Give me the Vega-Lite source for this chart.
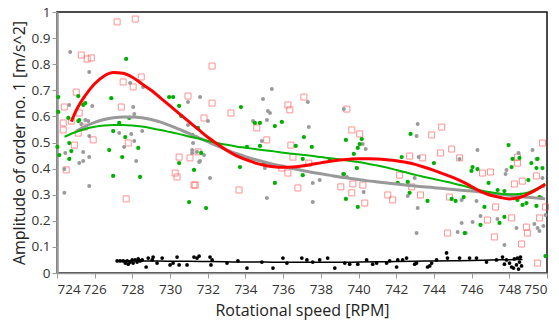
{
  "$schema": "https://vega.github.io/schema/vega-lite/v6.json",
  "width": 490,
  "height": 261,
  "autosize": {"type": "none"},
  "padding": {"left": 57, "top": 12, "right": 12, "bottom": 51},
  "background": "white",
  "config": {
    "font": "Open Sans",
    "view": {"stroke": "#111", "strokeWidth": 1.5},
    "axis": {"grid": false, "labelFontSize": 13.5, "labelColor": "#333", "titleFontSize": 16, "titleFontWeight": "normal", "titleColor": "#222", "tickColor": "#999", "domainColor": "#999", "tickSize": 5}
  },
  "datasets": {
    "red": [
      {"x":727.19,"y":0.962},{"x":728.15,"y":0.973},{"x":725.29,"y":0.835},{"x":725.6,"y":0.82},{"x":725.82,"y":0.824},
      {"x":727.51,"y":0.732},{"x":728.47,"y":0.751},{"x":728.04,"y":0.713},{"x":725.02,"y":0.693},{"x":724.39,"y":0.636},
      {"x":725.18,"y":0.613},{"x":727.41,"y":0.636},{"x":724.33,"y":0.575},{"x":724.76,"y":0.582},{"x":725.45,"y":0.559},
      {"x":724.33,"y":0.548},{"x":725.13,"y":0.536},{"x":725.92,"y":0.51},{"x":727.78,"y":0.498},{"x":724.92,"y":0.49},
      {"x":724.49,"y":0.395},{"x":730.27,"y":0.383},{"x":727.67,"y":0.284},{"x":730.48,"y":0.444},{"x":731.06,"y":0.441},
      {"x":731.27,"y":0.337},{"x":732.23,"y":0.793},{"x":730.95,"y":0.678},{"x":732.23,"y":0.651},{"x":736.25,"y":0.644},
      {"x":736.35,"y":0.625},{"x":733.23,"y":0.613},{"x":731.8,"y":0.594},{"x":734.6,"y":0.556},{"x":735.13,"y":0.51},
      {"x":736.41,"y":0.49},{"x":731.48,"y":0.464},{"x":736.52,"y":0.444},{"x":735.93,"y":0.402},{"x":736.25,"y":0.383},
      {"x":730.37,"y":0.368},{"x":731.33,"y":0.337},{"x":733.66,"y":0.318},{"x":736.78,"y":0.326},{"x":737.1,"y":0.674},
      {"x":739.38,"y":0.628},{"x":739.64,"y":0.548},{"x":740.06,"y":0.533},{"x":737.36,"y":0.421},{"x":739.06,"y":0.33},
      {"x":739.7,"y":0.341},{"x":740.23,"y":0.337},{"x":739.64,"y":0.307},{"x":741.55,"y":0.299},{"x":741.81,"y":0.28},
      {"x":740.33,"y":0.268},{"x":742.18,"y":0.375},{"x":742.71,"y":0.448},{"x":742.82,"y":0.33},{"x":744.41,"y":0.559},
      {"x":743.88,"y":0.529},{"x":744.94,"y":0.475},{"x":744.35,"y":0.46},{"x":743.4,"y":0.441},{"x":745.36,"y":0.441},
      {"x":743.29,"y":0.299},{"x":744.83,"y":0.291},{"x":747.0,"y":0.387},{"x":746.58,"y":0.383},{"x":748.27,"y":0.341},
      {"x":748.69,"y":0.352},{"x":748.43,"y":0.421},{"x":748.43,"y":0.444},{"x":749.76,"y":0.498},{"x":749.44,"y":0.372},
      {"x":747.27,"y":0.253},{"x":746.84,"y":0.203},{"x":744.72,"y":0.153},{"x":747.21,"y":0.138},{"x":748.91,"y":0.176},
      {"x":748.65,"y":0.111},{"x":748.96,"y":0.153},{"x":748.12,"y":0.211},{"x":749.6,"y":0.211},{"x":749.92,"y":0.253},
      {"x":749.5,"y":0.038}
    ],
    "gray": [
      {"x":724.7,"y":0.847},{"x":725.71,"y":0.77},{"x":727.88,"y":0.728},{"x":728.57,"y":0.713},{"x":724.65,"y":0.644},
      {"x":725.87,"y":0.64},{"x":728.04,"y":0.636},{"x":728.1,"y":0.609},{"x":725.5,"y":0.586},{"x":725.66,"y":0.582},
      {"x":725.29,"y":0.571},{"x":725.71,"y":0.525},{"x":727.3,"y":0.536},{"x":727.94,"y":0.533},{"x":728.1,"y":0.506},
      {"x":727.56,"y":0.483},{"x":728.52,"y":0.544},{"x":724.44,"y":0.46},{"x":725.39,"y":0.464},{"x":725.71,"y":0.444},
      {"x":725.39,"y":0.429},{"x":725.18,"y":0.421},{"x":728.2,"y":0.429},{"x":724.39,"y":0.398},{"x":725.71,"y":0.333},
      {"x":724.39,"y":0.307},{"x":731.17,"y":0.46},{"x":731.54,"y":0.425},{"x":732.12,"y":0.364},{"x":731.59,"y":0.674},
      {"x":730.95,"y":0.655},{"x":735.4,"y":0.705},{"x":734.93,"y":0.667},{"x":735.19,"y":0.621},{"x":735.3,"y":0.613},
      {"x":734.4,"y":0.582},{"x":735.14,"y":0.586},{"x":732.01,"y":0.582},{"x":730.95,"y":0.567},{"x":731.22,"y":0.498},
      {"x":734.87,"y":0.506},{"x":731.17,"y":0.471},{"x":731.43,"y":0.464},{"x":731.8,"y":0.452},{"x":731.59,"y":0.429},
      {"x":735.03,"y":0.402},{"x":735.14,"y":0.287},{"x":737.31,"y":0.655},{"x":737.36,"y":0.559},{"x":739.22,"y":0.628},
      {"x":740.38,"y":0.475},{"x":740.22,"y":0.494},{"x":743.08,"y":0.525},{"x":743.14,"y":0.571},{"x":739.17,"y":0.379},
      {"x":739.38,"y":0.368},{"x":737.94,"y":0.356},{"x":737.57,"y":0.345},{"x":740.27,"y":0.31},{"x":737.57,"y":0.272},
      {"x":742.61,"y":0.295},{"x":743.14,"y":0.249},{"x":742.98,"y":0.364},{"x":743.19,"y":0.444},{"x":745.36,"y":0.437},
      {"x":746.31,"y":0.471},{"x":748.49,"y":0.46},{"x":749.23,"y":0.471},{"x":749.44,"y":0.437},{"x":747.85,"y":0.395},
      {"x":747.8,"y":0.379},{"x":746.26,"y":0.276},{"x":745.47,"y":0.28},{"x":745.47,"y":0.192},{"x":746.05,"y":0.195},
      {"x":746.47,"y":0.218},{"x":747.37,"y":0.207},{"x":745.26,"y":0.157},{"x":745.69,"y":0.153},{"x":749.33,"y":0.188},
      {"x":749.5,"y":0.172},{"x":749.6,"y":0.161},{"x":749.81,"y":0.18},{"x":748.38,"y":0.172},{"x":743.08,"y":0.153},
      {"x":749.76,"y":0.364},{"x":749.81,"y":0.333},{"x":749.71,"y":0.287},{"x":747.74,"y":0.107},{"x":749.92,"y":0.222}
    ],
    "green": [
      {"x":727.67,"y":0.82},{"x":726.88,"y":0.67},{"x":725.13,"y":0.678},{"x":725.5,"y":0.651},{"x":725.39,"y":0.644},
      {"x":724.07,"y":0.674},{"x":724.07,"y":0.617},{"x":724.6,"y":0.594},{"x":725.18,"y":0.586},{"x":727.83,"y":0.594},
      {"x":730.16,"y":0.674},{"x":729.95,"y":0.674},{"x":730.48,"y":0.64},{"x":727.3,"y":0.575},{"x":725.13,"y":0.582},
      {"x":726.98,"y":0.544},{"x":727.62,"y":0.521},{"x":724.65,"y":0.498},{"x":724.02,"y":0.483},{"x":724.76,"y":0.467},
      {"x":726.77,"y":0.471},{"x":728.31,"y":0.479},{"x":724.12,"y":0.452},{"x":724.65,"y":0.437},{"x":727.46,"y":0.444},
      {"x":730.48,"y":0.421},{"x":726.98,"y":0.372},{"x":728.41,"y":0.368},{"x":731.27,"y":0.395},{"x":731.01,"y":0.272},
      {"x":731.91,"y":0.249},{"x":731.65,"y":0.46},{"x":730.59,"y":0.602},{"x":733.76,"y":0.636},{"x":734.5,"y":0.575},
      {"x":734.77,"y":0.575},{"x":735.56,"y":0.563},{"x":735.93,"y":0.579},{"x":731.48,"y":0.556},{"x":731.17,"y":0.529},
      {"x":734.08,"y":0.483},{"x":734.77,"y":0.487},{"x":736.67,"y":0.487},{"x":733.71,"y":0.406},{"x":734.98,"y":0.418},
      {"x":735.56,"y":0.345},{"x":737.1,"y":0.521},{"x":737.52,"y":0.483},{"x":739.33,"y":0.51},{"x":740.17,"y":0.513},
      {"x":740.06,"y":0.494},{"x":739.75,"y":0.456},{"x":739.96,"y":0.479},{"x":737.04,"y":0.437},{"x":738.47,"y":0.433},
      {"x":739.91,"y":0.402},{"x":737.04,"y":0.375},{"x":739.22,"y":0.379},{"x":739.33,"y":0.284},{"x":739.96,"y":0.253},
      {"x":742.76,"y":0.533},{"x":742.29,"y":0.444},{"x":742.08,"y":0.345},{"x":742.61,"y":0.349},{"x":742.71,"y":0.307},
      {"x":747.96,"y":0.49},{"x":748.17,"y":0.437},{"x":748.12,"y":0.406},{"x":749.17,"y":0.421},{"x":749.44,"y":0.402},
      {"x":749.5,"y":0.437},{"x":749.76,"y":0.402},{"x":746.05,"y":0.406},{"x":745.99,"y":0.391},{"x":746.31,"y":0.398},
      {"x":746.9,"y":0.345},{"x":747.38,"y":0.318},{"x":747.74,"y":0.314},{"x":748.59,"y":0.299},{"x":749.01,"y":0.356},
      {"x":748.43,"y":0.28},{"x":748.91,"y":0.268},{"x":749.6,"y":0.291},{"x":749.44,"y":0.257},{"x":744.0,"y":0.421},
      {"x":743.66,"y":0.276},{"x":744.94,"y":0.284},{"x":745.15,"y":0.276},{"x":745.58,"y":0.291},{"x":746.68,"y":0.253},
      {"x":747.74,"y":0.215},{"x":747.48,"y":0.192},{"x":746.47,"y":0.184},{"x":745.63,"y":0.153},{"x":748.7,"y":0.261},
      {"x":749.92,"y":0.065},{"x":748.54,"y":0.441}
    ],
    "black": [
      {"x":727.19,"y":0.046},{"x":727.35,"y":0.046},{"x":727.51,"y":0.046},{"x":727.62,"y":0.038},{"x":727.72,"y":0.046},
      {"x":727.78,"y":0.034},{"x":727.88,"y":0.042},{"x":727.99,"y":0.05},{"x":728.04,"y":0.038},{"x":728.15,"y":0.05},
      {"x":728.25,"y":0.042},{"x":728.31,"y":0.054},{"x":728.41,"y":0.046},{"x":728.52,"y":0.05},{"x":728.73,"y":0.023},
      {"x":728.84,"y":0.057},{"x":729.05,"y":0.05},{"x":729.1,"y":0.061},{"x":729.31,"y":0.038},{"x":729.58,"y":0.057},
      {"x":730.0,"y":0.031},{"x":730.16,"y":0.038},{"x":730.37,"y":0.061},{"x":730.48,"y":0.031},{"x":730.9,"y":0.031},
      {"x":731.27,"y":0.061},{"x":731.43,"y":0.057},{"x":731.54,"y":0.065},{"x":732.12,"y":0.061},{"x":732.17,"y":0.031},
      {"x":732.23,"y":0.05},{"x":733.02,"y":0.038},{"x":733.6,"y":0.046},{"x":734.08,"y":0.019},{"x":734.87,"y":0.042},
      {"x":735.46,"y":0.019},{"x":735.99,"y":0.057},{"x":736.2,"y":0.038},{"x":736.99,"y":0.057},{"x":737.26,"y":0.05},
      {"x":737.57,"y":0.042},{"x":737.94,"y":0.05},{"x":738.36,"y":0.057},{"x":738.74,"y":0.019},{"x":739.27,"y":0.038},
      {"x":739.53,"y":0.034},{"x":739.96,"y":0.034},{"x":740.43,"y":0.05},{"x":740.75,"y":0.034},{"x":740.96,"y":0.038},
      {"x":741.49,"y":0.038},{"x":741.65,"y":0.046},{"x":742.02,"y":0.023},{"x":742.08,"y":0.05},{"x":742.34,"y":0.05},
      {"x":742.55,"y":0.057},{"x":742.98,"y":0.034},{"x":743.08,"y":0.038},{"x":743.66,"y":0.023},{"x":743.78,"y":0.027},
      {"x":743.88,"y":0.038},{"x":744.14,"y":0.05},{"x":744.67,"y":0.077},{"x":744.72,"y":0.057},{"x":745.36,"y":0.057},
      {"x":745.89,"y":0.057},{"x":746.26,"y":0.057},{"x":746.79,"y":0.042},{"x":747.32,"y":0.05},{"x":747.64,"y":0.061},
      {"x":747.74,"y":0.034},{"x":747.85,"y":0.05},{"x":748.01,"y":0.038},{"x":748.12,"y":0.023},{"x":748.22,"y":0.019},
      {"x":748.27,"y":0.054},{"x":748.38,"y":0.031},{"x":748.43,"y":0.057},{"x":748.49,"y":0.015},{"x":748.54,"y":0.042},
      {"x":748.59,"y":0.061},{"x":748.65,"y":0.027}
    ],
    "fits": [
      {"s":"black","x":727.2,"y":0.047},{"s":"black","x":728,"y":0.047},{"s":"black","x":729,"y":0.046},{"s":"black","x":730,"y":0.045},
      {"s":"black","x":731,"y":0.045},{"s":"black","x":732,"y":0.044},{"s":"black","x":733,"y":0.043},{"s":"black","x":734,"y":0.042},
      {"s":"black","x":735,"y":0.042},{"s":"black","x":736,"y":0.041},{"s":"black","x":737,"y":0.041},{"s":"black","x":738,"y":0.041},
      {"s":"black","x":739,"y":0.041},{"s":"black","x":740,"y":0.042},{"s":"black","x":741,"y":0.043},{"s":"black","x":742,"y":0.044},
      {"s":"black","x":743,"y":0.045},{"s":"black","x":744,"y":0.046},{"s":"black","x":745,"y":0.047},{"s":"black","x":746,"y":0.048},
      {"s":"black","x":747,"y":0.05},{"s":"black","x":748,"y":0.051},{"s":"black","x":748.7,"y":0.052},

      {"s":"gray","x":725.06,"y":0.545},{"s":"gray","x":725.5,"y":0.562},{"s":"gray","x":726,"y":0.577},{"s":"gray","x":726.5,"y":0.588},
      {"s":"gray","x":727,"y":0.595},{"s":"gray","x":727.5,"y":0.598},{"s":"gray","x":728,"y":0.598},{"s":"gray","x":728.5,"y":0.595},
      {"s":"gray","x":729,"y":0.588},{"s":"gray","x":729.5,"y":0.578},{"s":"gray","x":730,"y":0.565},{"s":"gray","x":730.5,"y":0.55},
      {"s":"gray","x":731,"y":0.535},{"s":"gray","x":731.5,"y":0.519},{"s":"gray","x":732,"y":0.503},{"s":"gray","x":732.5,"y":0.487},
      {"s":"gray","x":733,"y":0.472},{"s":"gray","x":733.5,"y":0.458},{"s":"gray","x":734,"y":0.446},{"s":"gray","x":734.5,"y":0.435},
      {"s":"gray","x":735,"y":0.425},{"s":"gray","x":735.5,"y":0.416},{"s":"gray","x":736,"y":0.408},{"s":"gray","x":736.5,"y":0.4},
      {"s":"gray","x":737,"y":0.393},{"s":"gray","x":737.5,"y":0.386},{"s":"gray","x":738,"y":0.38},{"s":"gray","x":738.5,"y":0.374},
      {"s":"gray","x":739,"y":0.368},{"s":"gray","x":739.5,"y":0.363},{"s":"gray","x":740,"y":0.358},{"s":"gray","x":740.5,"y":0.353},
      {"s":"gray","x":741,"y":0.349},{"s":"gray","x":741.5,"y":0.345},{"s":"gray","x":742,"y":0.341},{"s":"gray","x":742.5,"y":0.337},
      {"s":"gray","x":743,"y":0.333},{"s":"gray","x":744,"y":0.327},{"s":"gray","x":745,"y":0.32},{"s":"gray","x":746,"y":0.314},
      {"s":"gray","x":747,"y":0.306},{"s":"gray","x":748,"y":0.298},{"s":"gray","x":749,"y":0.29},{"s":"gray","x":749.9,"y":0.284},

      {"s":"green","x":724.4,"y":0.522},{"s":"green","x":725,"y":0.54},{"s":"green","x":725.5,"y":0.552},{"s":"green","x":726,"y":0.56},
      {"s":"green","x":726.5,"y":0.565},{"s":"green","x":727,"y":0.567},{"s":"green","x":727.5,"y":0.567},{"s":"green","x":728,"y":0.565},
      {"s":"green","x":728.5,"y":0.561},{"s":"green","x":729,"y":0.555},{"s":"green","x":729.5,"y":0.548},{"s":"green","x":730,"y":0.54},
      {"s":"green","x":730.5,"y":0.532},{"s":"green","x":731,"y":0.523},{"s":"green","x":731.5,"y":0.515},{"s":"green","x":732,"y":0.506},
      {"s":"green","x":732.5,"y":0.498},{"s":"green","x":733,"y":0.491},{"s":"green","x":733.5,"y":0.485},{"s":"green","x":734,"y":0.48},
      {"s":"green","x":734.5,"y":0.475},{"s":"green","x":735,"y":0.47},{"s":"green","x":735.5,"y":0.466},{"s":"green","x":736,"y":0.461},
      {"s":"green","x":736.5,"y":0.457},{"s":"green","x":737,"y":0.453},{"s":"green","x":737.5,"y":0.449},{"s":"green","x":738,"y":0.444},
      {"s":"green","x":738.5,"y":0.44},{"s":"green","x":739,"y":0.435},{"s":"green","x":739.5,"y":0.43},{"s":"green","x":740,"y":0.425},
      {"s":"green","x":740.5,"y":0.419},{"s":"green","x":741,"y":0.412},{"s":"green","x":741.5,"y":0.404},{"s":"green","x":742,"y":0.395},
      {"s":"green","x":742.5,"y":0.386},{"s":"green","x":743,"y":0.376},{"s":"green","x":743.5,"y":0.368},{"s":"green","x":744,"y":0.36},
      {"s":"green","x":744.5,"y":0.352},{"s":"green","x":745,"y":0.344},{"s":"green","x":745.5,"y":0.335},{"s":"green","x":746,"y":0.325},
      {"s":"green","x":746.5,"y":0.316},{"s":"green","x":747,"y":0.309},{"s":"green","x":747.5,"y":0.304},{"s":"green","x":748,"y":0.302},
      {"s":"green","x":748.5,"y":0.303},{"s":"green","x":749,"y":0.309},{"s":"green","x":749.5,"y":0.325},{"s":"green","x":749.9,"y":0.342},

      {"s":"red","x":724.76,"y":0.58},{"s":"red","x":725,"y":0.62},{"s":"red","x":725.5,"y":0.68},{"s":"red","x":726,"y":0.725},
      {"s":"red","x":726.5,"y":0.755},{"s":"red","x":727,"y":0.768},{"s":"red","x":727.5,"y":0.765},{"s":"red","x":728,"y":0.75},
      {"s":"red","x":728.5,"y":0.725},{"s":"red","x":729,"y":0.7},{"s":"red","x":729.5,"y":0.67},{"s":"red","x":730,"y":0.64},
      {"s":"red","x":730.5,"y":0.61},{"s":"red","x":731,"y":0.58},{"s":"red","x":731.5,"y":0.55},{"s":"red","x":732,"y":0.52},
      {"s":"red","x":732.5,"y":0.495},{"s":"red","x":733,"y":0.47},{"s":"red","x":733.5,"y":0.45},{"s":"red","x":734,"y":0.435},
      {"s":"red","x":734.5,"y":0.422},{"s":"red","x":735,"y":0.413},{"s":"red","x":735.5,"y":0.407},{"s":"red","x":736,"y":0.405},
      {"s":"red","x":736.5,"y":0.406},{"s":"red","x":737,"y":0.41},{"s":"red","x":737.5,"y":0.416},{"s":"red","x":738,"y":0.422},
      {"s":"red","x":738.5,"y":0.428},{"s":"red","x":739,"y":0.433},{"s":"red","x":739.5,"y":0.436},{"s":"red","x":740,"y":0.438},
      {"s":"red","x":740.5,"y":0.438},{"s":"red","x":741,"y":0.437},{"s":"red","x":741.5,"y":0.434},{"s":"red","x":742,"y":0.43},
      {"s":"red","x":742.5,"y":0.424},{"s":"red","x":743,"y":0.416},{"s":"red","x":743.5,"y":0.405},{"s":"red","x":744,"y":0.393},
      {"s":"red","x":744.5,"y":0.38},{"s":"red","x":745,"y":0.366},{"s":"red","x":745.5,"y":0.35},{"s":"red","x":746,"y":0.331},
      {"s":"red","x":746.5,"y":0.312},{"s":"red","x":747,"y":0.298},{"s":"red","x":747.5,"y":0.29},{"s":"red","x":748,"y":0.284},
      {"s":"red","x":748.5,"y":0.288},{"s":"red","x":749,"y":0.303},{"s":"red","x":749.5,"y":0.322},{"s":"red","x":749.9,"y":0.34}
    ]
  },
  "encoding": {
    "x": {"field": "x", "type": "quantitative",
      "scale": {"domain": [724, 750], "nice": false, "zero": false},
      "axis": {"title": "Rotational speed [RPM]", "values": [724,726,728,730,732,734,736,738,740,742,744,746,748,750], "labelPadding": 4, "titlePadding": 7, "domainWidth": 1.5}},
    "y": {"field": "y", "type": "quantitative",
      "scale": {"domain": [0, 1], "nice": false},
      "axis": {"title": "Amplitude of order no. 1 [m/s^2]", "values": [0,0.1,0.2,0.3,0.4,0.5,0.6,0.7,0.8,0.9,1], "format": "~g", "labelPadding": 2, "titlePadding": 4, "domainWidth": 2.5}}
  },
  "layer": [
    {"data": {"name": "red"}, "mark": {"type": "point", "shape": "square", "filled": false, "stroke": "#ff3b3b", "strokeWidth": 1, "opacity": 0.55, "size": 36}},
    {"data": {"name": "gray"}, "mark": {"type": "circle", "color": "#9a9a9a", "opacity": 1, "size": 16}},
    {"data": {"name": "green"}, "mark": {"type": "circle", "color": "#00b000", "opacity": 1, "size": 18}},
    {"data": {"name": "black"}, "mark": {"type": "circle", "color": "#000000", "opacity": 1, "size": 14}},
    {"data": {"name": "fits"}, "transform": [{"filter": "datum.s === 'black'"}], "mark": {"type": "line", "color": "#000000", "strokeWidth": 1.5, "interpolate": "monotone"}},
    {"data": {"name": "fits"}, "transform": [{"filter": "datum.s === 'gray'"}], "mark": {"type": "line", "color": "#999999", "strokeWidth": 3, "interpolate": "monotone"}},
    {"data": {"name": "fits"}, "transform": [{"filter": "datum.s === 'green'"}], "mark": {"type": "line", "color": "#00b400", "strokeWidth": 2, "interpolate": "monotone"}},
    {"data": {"name": "fits"}, "transform": [{"filter": "datum.s === 'red'"}], "mark": {"type": "line", "color": "#ff0000", "strokeWidth": 3, "interpolate": "monotone"}}
  ]
}
